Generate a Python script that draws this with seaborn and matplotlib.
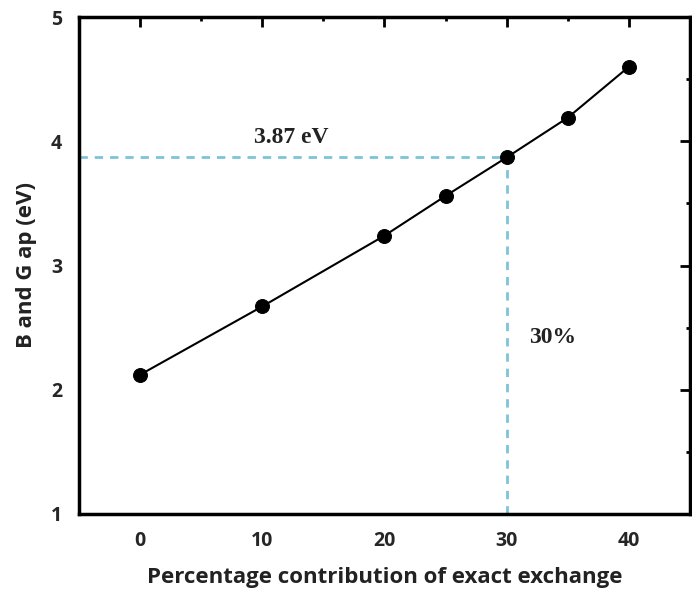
import matplotlib
matplotlib.use("Agg")
import matplotlib.pyplot as plt
from matplotlib.ticker import MultipleLocator
import seaborn as sns
import pandas as pd

# =========================
# DATA
# =========================
exchange_pct = [0, 10, 20, 25, 30, 35, 40]
band_gap = [2.12, 2.67, 3.24, 3.56, 3.87, 4.19, 4.60]

sel_pct = 30
sel_gap = 3.87

df = pd.DataFrame({"pct": exchange_pct, "gap": band_gap})

# =========================
# STYLE
# =========================
sns.set_style("white")
plt.rcParams["font.family"] = ["Open Sans", "DejaVu Sans"]

fig = plt.figure(figsize=(6.92, 5.9), dpi=100)
ax = fig.add_axes([0.114, 0.129, 0.883, 0.842])

# =========================
# PLOT
# =========================
sns.lineplot(data=df, x="pct", y="gap", ax=ax, color="black",
             marker="o", markersize=10, markeredgecolor="black",
             linewidth=1.5)

dash_color = "#7cc4d8"
ax.plot([-5, sel_pct], [sel_gap, sel_gap], linestyle=(0, (3, 2.5)),
        color=dash_color, linewidth=2, zorder=1)
ax.plot([sel_pct, sel_pct], [1, sel_gap], linestyle=(0, (3, 2.5)),
        color=dash_color, linewidth=2, zorder=1)

ax.text(12.4, 3.99, "3.87 eV", family="Liberation Serif", fontweight="bold",
        fontsize=17, color="#222222", ha="center", va="baseline")
ax.text(33.8, 2.38, "30%", family="Liberation Serif", fontweight="bold",
        fontsize=17, color="#222222", ha="center", va="baseline")

ax.set_xlim(-5, 45)
ax.set_ylim(1, 5)
ax.xaxis.set_major_locator(MultipleLocator(10))
ax.xaxis.set_minor_locator(MultipleLocator(5))
ax.yaxis.set_major_locator(MultipleLocator(1))
ax.yaxis.set_minor_locator(MultipleLocator(0.5))

ax.tick_params(which="both", direction="in", top=True, right=True,
               width=2, color="black")
ax.tick_params(which="major", length=7, labelsize=14)
ax.tick_params(axis="x", which="major", pad=12)
ax.tick_params(axis="y", which="major", pad=12)
ax.tick_params(which="minor", length=3)
for lab in ax.get_xticklabels() + ax.get_yticklabels():
    lab.set_fontweight("bold")

for sp in ax.spines.values():
    sp.set_linewidth(2.5)
    sp.set_color("black")

ax.set_xlabel("Percentage contribution of exact exchange", fontsize=16,
              fontweight="bold", labelpad=12, color="#222222")
ax.set_ylabel("B and G ap (eV)", fontsize=16, fontweight="bold",
              labelpad=10, color="#222222")

plt.savefig("out.png", dpi=100)
